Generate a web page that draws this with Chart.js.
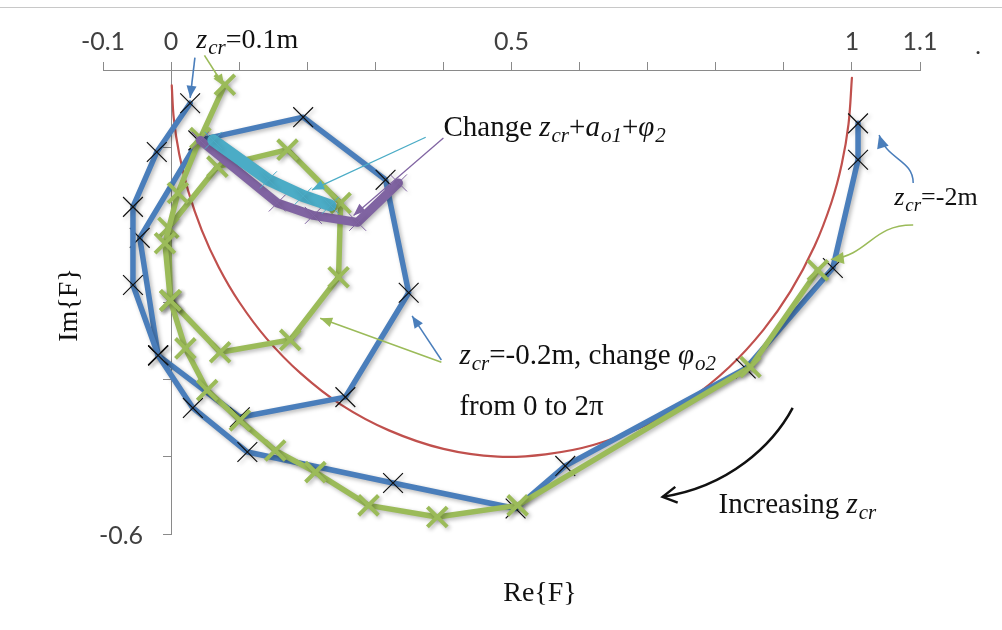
<!DOCTYPE html>
<html>
<head>
<meta charset="utf-8">
<script src="https://cdn.jsdelivr.net/npm/chart.js@4.4.1/dist/chart.umd.min.js"></script>
<style>
  html, body { margin: 0; padding: 0; background: #ffffff; }
  #wrap { width: 1002px; height: 630px; position: relative; }
  canvas { display: block; }
</style>
</head>
<body>
<div id="wrap"><canvas id="c" width="1002" height="630"></canvas></div>
<script>
// Reference locus of F (thin red arc)
const circleRe = [1.0, 0.995, 0.985, 0.97, 0.945, 0.91, 0.87, 0.82, 0.76, 0.70, 0.62, 0.55, 0.48, 0.40, 0.32, 0.25, 0.19, 0.14, 0.10, 0.07, 0.045, 0.025, 0.012, 0.004, 0.001];
const circleIm = [-0.01, -0.07, -0.122, -0.171, -0.228, -0.286, -0.336, -0.384, -0.427, -0.458, -0.485, -0.497, -0.5, -0.49, -0.466, -0.433, -0.392, -0.347, -0.3, -0.255, -0.207, -0.156, -0.109, -0.063, -0.02];

// Blue: z_cr swept from -2 m to 0.1 m
const blueSweepRe = [1.009, 1.009, 0.972, 0.844, 0.579, 0.506, 0.326, 0.112, 0.032, -0.019, -0.056, -0.056, -0.021, 0.028];
const blueSweepIm = [-0.069, -0.116, -0.256, -0.386, -0.512, -0.567, -0.534, -0.494, -0.437, -0.369, -0.278, -0.177, -0.106, -0.043];

// Blue: z_cr = -0.2 m, phi_o2 from 0 to 2*pi
const blueLoopRe = [-0.019, 0.101, 0.256, 0.349, 0.315, 0.194, 0.040, -0.046, -0.019];
const blueLoopIm = [-0.369, -0.449, -0.423, -0.288, -0.142, -0.061, -0.091, -0.217, -0.369];

// Green: z_cr swept from -2 m to 0.1 m
const greenSweepRe = [0.950, 0.851, 0.509, 0.391, 0.290, 0.212, 0.153, 0.101, 0.053, 0.021, -0.001, -0.009, 0.010, 0.043, 0.079];
const greenSweepIm = [-0.259, -0.384, -0.563, -0.578, -0.563, -0.520, -0.492, -0.453, -0.414, -0.360, -0.298, -0.224, -0.159, -0.088, -0.019];

// Green: z_cr = -0.2 m, phi_o2 from 0 to 2*pi
const greenLoopRe = [-0.001, 0.072, 0.175, 0.246, 0.249, 0.171, 0.068, -0.004, -0.001];
const greenLoopIm = [-0.298, -0.365, -0.349, -0.268, -0.172, -0.103, -0.125, -0.204, -0.298];

// Purple and cyan: combined change of z_cr + a_o1 + phi_2
const purpleRe = [0.043, 0.156, 0.209, 0.274, 0.334];
const purpleIm = [-0.091, -0.172, -0.188, -0.197, -0.146];
const cyanRe = [0.062, 0.143, 0.194, 0.234];
const cyanIm = [-0.091, -0.142, -0.163, -0.175];

// Axis tick labels that are printed
const xTickValues = [-0.1, 0, 0.5, 1, 1.1];
const xTickText = ['-0.1', '0', '0.5', '1', '1.1'];
const yTickValues = [-0.6];
const yTickText = ['-0.6'];

const BLUE = '#4a7ebb', GREEN = '#9bbb59', RED = '#c0504d', PURPLE = '#8064a2', CYAN = '#4bacc6';

const toPoints = (re, im) => re.map((x, i) => ({ x, y: im[i] }));

function lineSeries(label, re, im, style) {
  return Object.assign({
    label,
    data: toPoints(re, im),
    showLine: true,
    tension: 0,
    fill: false,
    clip: false,
    borderJoinStyle: 'round',
    borderCapStyle: 'round',
    pointHoverRadius: 0
  }, style);
}

const blueStyle = {
  borderColor: BLUE, borderWidth: 5.5,
  pointStyle: 'crossRot', pointRadius: 14, pointBorderColor: '#111', pointBorderWidth: 1.2,
  pointBackgroundColor: 'transparent', order: 4, shadow: true
};
const greenStyle = {
  borderColor: GREEN, borderWidth: 5.5,
  pointStyle: 'crossRot', pointRadius: 14, pointBorderColor: GREEN, pointBorderWidth: 4,
  pointBackgroundColor: 'transparent', order: 3, shadow: true
};

const datasets = [
  lineSeries('circle', circleRe, circleIm, { borderColor: RED, borderWidth: 2.2, pointRadius: 0, tension: 0.35, order: 5 }),
  lineSeries('blue sweep', blueSweepRe, blueSweepIm, blueStyle),
  lineSeries('blue loop', blueLoopRe, blueLoopIm, blueStyle),
  lineSeries('green sweep', greenSweepRe, greenSweepIm, greenStyle),
  lineSeries('green loop', greenLoopRe, greenLoopIm, greenStyle),
  lineSeries('purple', purpleRe, purpleIm, {
    borderColor: PURPLE, borderWidth: 9, pointStyle: 'crossRot', pointRadius: 12,
    pointBorderColor: PURPLE, pointBorderWidth: 1, pointBackgroundColor: 'transparent', order: 2, shadow: true
  }),
  lineSeries('cyan', cyanRe, cyanIm, {
    borderColor: CYAN, borderWidth: 12, pointStyle: 'crossRot', pointRadius: 12,
    pointBorderColor: CYAN, pointBorderWidth: 1, pointBackgroundColor: 'transparent', order: 1, shadow: true
  })
];

// Soft drop shadow under the thick series
const softShadow = {
  id: 'softShadow',
  beforeDatasetDraw(chart, args) {
    if (!chart.data.datasets[args.index].shadow) return;
    const ctx = chart.ctx;
    ctx.save();
    ctx.shadowColor = 'rgba(0,0,0,0.28)';
    ctx.shadowBlur = 4;
    ctx.shadowOffsetX = 2;
    ctx.shadowOffsetY = 2;
  },
  afterDatasetDraw(chart, args) {
    if (!chart.data.datasets[args.index].shadow) return;
    chart.ctx.restore();
  }
};

// Text with italic symbols and subscripts
function richText(ctx, segs, x, y, size) {
  let cx = x;
  for (const s of segs) {
    const fs = s.sub ? Math.round(size * 0.74) : size;
    ctx.font = (s.it ? 'italic ' : '') + fs + 'px "Liberation Serif"';
    ctx.fillText(s.t, cx, y + (s.sub ? size * 0.2 : 0));
    cx += ctx.measureText(s.t).width + (s.it && !s.sub ? 1 : 0);
  }
}

function arrowHead(ctx, tip, from, color, len, half, open) {
  const ang = Math.atan2(tip[1] - from[1], tip[0] - from[0]);
  const bx = tip[0] - Math.cos(ang) * len, by = tip[1] - Math.sin(ang) * len;
  const nx = -Math.sin(ang) * half, ny = Math.cos(ang) * half;
  ctx.beginPath();
  if (open) {
    ctx.moveTo(bx + nx, by + ny);
    ctx.lineTo(tip[0], tip[1]);
    ctx.lineTo(bx - nx, by - ny);
    ctx.strokeStyle = color;
    ctx.stroke();
  } else {
    ctx.moveTo(tip[0], tip[1]);
    ctx.lineTo(bx + nx, by + ny);
    ctx.lineTo(bx - nx, by - ny);
    ctx.closePath();
    ctx.fillStyle = color;
    ctx.fill();
  }
}

function straightArrow(ctx, a, b, color, width) {
  ctx.beginPath();
  ctx.moveTo(a[0], a[1]);
  ctx.lineTo(b[0], b[1]);
  ctx.strokeStyle = color;
  ctx.lineWidth = width;
  ctx.stroke();
  arrowHead(ctx, b, a, color, 12, 5, false);
}

function curvedArrow(ctx, a, c1, c2, b, color, width, open) {
  ctx.beginPath();
  ctx.moveTo(a[0], a[1]);
  ctx.bezierCurveTo(c1[0], c1[1], c2[0], c2[1], b[0], b[1]);
  ctx.strokeStyle = color;
  ctx.lineWidth = width;
  ctx.stroke();
  if (open) {
    arrowHead(ctx, b, c2, color, 14, 8, true);
  } else {
    arrowHead(ctx, b, c2, color, 13, 6, false);
  }
}

const notes = {
  id: 'notes',
  afterDraw(chart) {
    const { ctx, scales: { x, y } } = chart;
    const P = (a, b) => [x.getPixelForValue(a), y.getPixelForValue(b)];
    ctx.save();

    // frame line along the top
    ctx.strokeStyle = '#c8c8c8';
    ctx.lineWidth = 1;
    ctx.beginPath();
    ctx.moveTo(0, 7.5);
    ctx.lineTo(1002, 7.5);
    ctx.stroke();

    // printed y tick labels, set off to the left of the axis
    ctx.font = '25px Lato';
    ctx.fillStyle = '#404040';
    ctx.textAlign = 'right';
    ctx.textBaseline = 'middle';
    const axisX = x.getPixelForValue(0);
    yTickValues.forEach((v, i) => ctx.fillText(yTickText[i], axisX - 28, y.getPixelForValue(v) + 2));

    ctx.fillStyle = '#111';
    ctx.textBaseline = 'alphabetic';
    ctx.textAlign = 'left';
    const FS = 29;

    // z_cr = 0.1 m
    let p = P(0.037, 0.028);
    ctx.fillStyle = '#111';
    richText(ctx, [{ t: 'z', it: true }, { t: 'cr', it: true, sub: true }, { t: '=0.1m' }], p[0], p[1], 28);
    straightArrow(ctx, P(0.035, 0.016), P(0.028, -0.036), BLUE, 1.6);
    straightArrow(ctx, P(0.049, 0.019), P(0.078, -0.021), GREEN, 1.6);

    // Change z_cr + a_o1 + phi_2
    p = P(0.40, -0.085);
    ctx.fillStyle = '#111';
    richText(ctx, [
      { t: 'Change ' }, { t: 'z', it: true }, { t: 'cr', it: true, sub: true }, { t: '+' },
      { t: 'a', it: true }, { t: 'o1', it: true, sub: true }, { t: '+' },
      { t: 'φ', it: true }, { t: '2', it: true, sub: true }
    ], p[0], p[1], FS);
    straightArrow(ctx, P(0.374, -0.087), P(0.207, -0.155), CYAN, 1.3);
    straightArrow(ctx, P(0.400, -0.088), P(0.268, -0.188), PURPLE, 1.3);

    // z_cr = -2 m
    p = P(1.062, -0.175);
    ctx.fillStyle = '#111';
    richText(ctx, [{ t: 'z', it: true }, { t: 'cr', it: true, sub: true }, { t: '=-2m' }], p[0], p[1], 26);
    curvedArrow(ctx, P(1.090, -0.146), P(1.090, -0.116), P(1.051, -0.116), P(1.040, -0.084), BLUE, 1.5, false);
    curvedArrow(ctx, P(1.090, -0.2005), P(1.029, -0.200), P(1.026, -0.239), P(0.969, -0.245), GREEN, 1.5, false);

    // z_cr = -0.2 m, change phi_o2 from 0 to 2 pi
    p = P(0.4235, -0.380);
    ctx.fillStyle = '#111';
    richText(ctx, [
      { t: 'z', it: true }, { t: 'cr', it: true, sub: true }, { t: '=-0.2m, change ' },
      { t: 'φ', it: true }, { t: 'o2', it: true, sub: true }
    ], p[0], p[1], FS);
    p = P(0.4235, -0.446);
    richText(ctx, [{ t: 'from 0 to 2π' }], p[0], p[1], FS);
    straightArrow(ctx, P(0.397, -0.375), P(0.354, -0.318), BLUE, 1.5);
    straightArrow(ctx, P(0.397, -0.378), P(0.219, -0.321), GREEN, 1.5);

    // Increasing z_cr
    p = P(0.804, -0.573);
    ctx.fillStyle = '#111';
    richText(ctx, [{ t: 'Increasing ' }, { t: 'z', it: true }, { t: 'cr', it: true, sub: true }], p[0], p[1], FS);
    curvedArrow(ctx, P(0.913, -0.437), P(0.884, -0.485), P(0.819, -0.539), P(0.722, -0.552), '#111', 2.5, true);

    // axis titles
    ctx.fillStyle = '#111';
    ctx.font = '28px "Liberation Serif"';
    ctx.textAlign = 'center';
    ctx.textBaseline = 'middle';
    ctx.fillText('Re{F}', 540, 594);
    ctx.save();
    ctx.translate(70, 305);
    ctx.rotate(-Math.PI / 2);
    ctx.fillText('Im{F}', 0, 0);
    ctx.restore();

    // stray mark at the top right
    ctx.font = '24px Lato';
    ctx.fillStyle = '#333';
    ctx.fillText('.', 978, 46);

    ctx.restore();
  }
};

const pick = (vals, texts) => (v) => {
  const i = vals.findIndex(t => Math.abs(t - v) < 1e-6);
  return i >= 0 ? texts[i] : '';
};

new Chart(document.getElementById('c'), {
  type: 'scatter',
  data: { datasets },
  plugins: [softShadow, notes],
  options: {
    responsive: false,
    animation: false,
    devicePixelRatio: 1,
    layout: { padding: { left: 103, right: 82, top: 0, bottom: 96 } },
    plugins: { legend: { display: false }, tooltip: { enabled: false } },
    events: [],
    scales: {
      x: {
        type: 'linear',
        position: 'top',
        min: -0.1,
        max: 1.1,
        afterFit(scale) { scale.height = 70; },
        ticks: {
          stepSize: 0.1,
          autoSkip: false,
          maxRotation: 0,
          padding: 5,
          color: '#404040',
          font: { family: 'Lato', size: 25 },
          callback: pick(xTickValues, xTickText)
        },
        grid: { drawOnChartArea: false, drawTicks: true, tickLength: 8, color: '#8a8a8a', lineWidth: 1 },
        border: { display: true, color: '#8a8a8a', width: 1 }
      },
      y: {
        type: 'linear',
        position: { x: 0 },
        min: -0.6,
        max: 0,
        ticks: {
          stepSize: 0.1,
          autoSkip: false,
          callback: () => ''
        },
        grid: { drawOnChartArea: false, drawTicks: true, tickLength: 8, color: '#8a8a8a', lineWidth: 1 },
        border: { display: true, color: '#8a8a8a', width: 1 }
      }
    }
  }
});
</script>
</body>
</html>
